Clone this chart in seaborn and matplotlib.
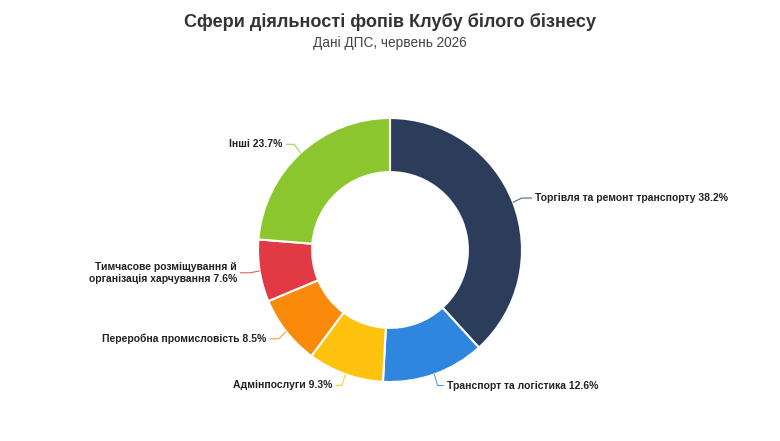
import numpy as np
import matplotlib.pyplot as plt
import seaborn as sns

# дані
categories = ["Торгівля та ремонт транспорту", "Транспорт та логістика", "Адмінпослуги",
              "Переробна промисловість", "Тимчасове розміщування й\nорганізація харчування", "Інші"]
shares = [38.2, 12.6, 9.3, 8.5, 7.6, 23.7]
colors = ["#2c3d5c", "#2e86de", "#ffc20e", "#f98a0a", "#e23a45", "#8cc62f"]

sns.set_theme(style="white")
plt.rcParams["font.family"] = ["Liberation Sans", "DejaVu Sans"]

fig = plt.figure(figsize=(7.8, 4.41), dpi=100)
ax = fig.add_axes([0, 0, 1, 1])
R = 132.0

wedges, _ = ax.pie(shares, colors=colors, startangle=90, counterclock=False,
                   radius=1.0, wedgeprops=dict(width=0.41, edgecolor="white", linewidth=1.5))
ax.set_aspect("auto")
ax.set_xlim(-390 / R, 390 / R)
ax.set_ylim((250 - 441) / R, 250 / R)
ax.axis("off")

# підписи з виносками
for w, name, val, c in zip(wedges, categories, shares, colors):
    ang = np.deg2rad((w.theta1 + w.theta2) / 2)
    cx, cy = np.cos(ang), np.sin(ang)
    side = 1 if cx >= 0 else -1
    tx = cx * 1.12 + side * 0.054
    ty = cy * 1.09
    p0 = (cx * 1.0, cy * 1.0)
    p1 = (cx * 1.07, ty)
    p2 = (tx - side * 0.025, ty)
    ax.plot([p0[0], p1[0], p2[0]], [p0[1], p1[1], p2[1]], color=c, lw=0.8, alpha=0.8)
    ax.text(tx, ty, f"{name} {val}%", ha="left" if side > 0 else "right", va="center",
            fontsize=7.5, fontweight="bold", color="#222222", linespacing=1.3)

fig.text(0.5, 1 - 22 / 441, "Сфери діяльності фопів Клубу білого бізнесу", ha="center", va="center",
         fontsize=13.1, fontweight="bold", color="#333333")
fig.text(0.5, 1 - 43 / 441, "Дані ДПС, червень 2026", ha="center", va="center",
         fontsize=9.8, color="#444444")

fig.savefig("out.png", dpi=100, facecolor="white")
